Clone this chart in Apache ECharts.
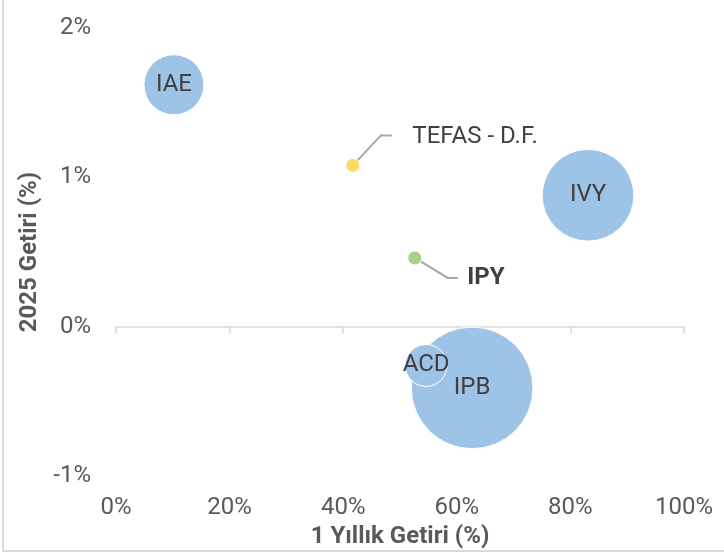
<!DOCTYPE html>
<html>
<head>
<meta charset="utf-8">
<script src="https://cdn.jsdelivr.net/npm/echarts@6/dist/echarts.min.js"></script>
<style>
  html, body { margin: 0; padding: 0; background: #fff; }
  #chart { width: 724px; height: 555px; }
</style>
</head>
<body>
<div id="chart"></div>
<script>
// fund names, 1-year return (%), 2025 return (%), relative fund size
const funds = ['IPB', 'ACD', 'IAE', 'IVY', 'TEFAS - D.F.', 'IPY'];
const oneYear = [62.7, 54.6, 10.2, 83.1, 41.7, 52.6];
const ytd2025 = [-0.41, -0.26, 1.62, 0.88, 1.08, 0.46];
const fundSize = [37, 4.4, 9, 21, 0.49, 0.49];

const xTicks = [0, 20, 40, 60, 80, 100];
const yTicks = [-1, 0, 1, 2];

const font = "Roboto, sans-serif";
const colors = {
  'TEFAS - D.F.': '#FFD966',
  'IPY': '#A9D18E'
};
// label shifts and leader bends for the two small dots (pixels)
const shifts = {
  'TEFAS - D.F.': { dx: 47, dy: -28, bend: [28, -30], end: [39, -30] },
  'IPY': { dx: 40, dy: 20, bend: [33, 20], end: [43, 20] }
};

const chart = echarts.init(document.getElementById('chart'));

const data = funds.map((name, i) => {
  let item = {
    name: name,
    value: [oneYear[i], ytd2025[i], fundSize[i]],
    itemStyle: { color: colors[name] || '#9DC3E6' }
  };
  if (shifts[name]) {
    item.label = { position: 'right', distance: 5, fontWeight: name === 'IPY' ? 'bold' : 'normal' };
  }
  return item;
});

const option = {
  animation: false,
  grid: { left: 116, right: 40, top: 28, bottom: 79 },
  xAxis: [
    {
      type: 'value',
      min: xTicks[0],
      max: xTicks[xTicks.length - 1],
      interval: 20,
      position: 'bottom',
      name: '1 Yıllık Getiri (%)',
      nameLocation: 'middle',
      nameGap: 47,
      nameTextStyle: { fontFamily: font, fontSize: 24, fontWeight: 'bold', color: '#595959' },
      axisLine: { show: false, onZero: false },
      axisTick: { show: false },
      splitLine: { show: false },
      axisLabel: {
        margin: 20,
        fontFamily: font, fontSize: 24, color: '#595959',
        formatter: v => v + '%'
      }
    },
    {
      type: 'value',
      min: xTicks[0],
      max: xTicks[xTicks.length - 1],
      interval: 20,
      position: 'bottom',
      axisLine: { show: true, onZero: true, lineStyle: { color: '#d9d9d9', width: 1.5 } },
      axisTick: { show: true, length: 7, lineStyle: { color: '#d9d9d9', width: 1.5 } },
      axisLabel: { show: false },
      splitLine: { show: false }
    }
  ],
  yAxis: {
    type: 'value',
    min: yTicks[0],
    max: yTicks[yTicks.length - 1],
    interval: 1,
    name: '2025 Getiri (%)',
    nameLocation: 'middle',
    nameGap: 72,
    nameTextStyle: { fontFamily: font, fontSize: 24, fontWeight: 'bold', color: '#595959' },
    axisLine: { show: false },
    axisTick: { show: false },
    splitLine: { show: false },
    axisLabel: {
      margin: 25,
      fontFamily: font, fontSize: 24, color: '#595959',
      formatter: v => v + '%'
    }
  },
  series: [
    {
      type: 'scatter',
      xAxisIndex: 1,
      data: data,
      symbolSize: d => 20 * Math.sqrt(d[2]),
      itemStyle: { opacity: 1, borderColor: '#fff', borderWidth: 1 },
      label: {
        show: true,
        position: 'inside',
        formatter: '{b}',
        fontFamily: font,
        fontSize: 24,
        color: '#404040'
      },
      labelLayout: params => {
        const s = shifts[funds[params.dataIndex]];
        return s ? { dx: s.dx, dy: s.dy } : {};
      },
      emphasis: { disabled: true }
    }
  ]
};

chart.setOption(option);

// leader lines drawn from the data points' pixel positions
const graphics = [
  {
    type: 'rect',
    shape: { x: 3, y: -10, width: 740, height: 561 },
    style: { fill: 'none', stroke: '#d9d9d9', lineWidth: 2 },
    silent: true
  }
];
funds.forEach((name, i) => {
  const s = shifts[name];
  if (!s) return;
  const p = chart.convertToPixel({ xAxisIndex: 1, yAxisIndex: 0 }, [oneYear[i], ytd2025[i]]);
  graphics.push({
    type: 'polyline',
    z: 1,
    shape: { points: [p, [p[0] + s.bend[0], p[1] + s.bend[1]], [p[0] + s.end[0], p[1] + s.end[1]]] },
    style: { fill: 'none', stroke: '#a6a6a6', lineWidth: 2 },
    silent: true
  });
});
chart.setOption({ graphic: graphics });
</script>
</body>
</html>
